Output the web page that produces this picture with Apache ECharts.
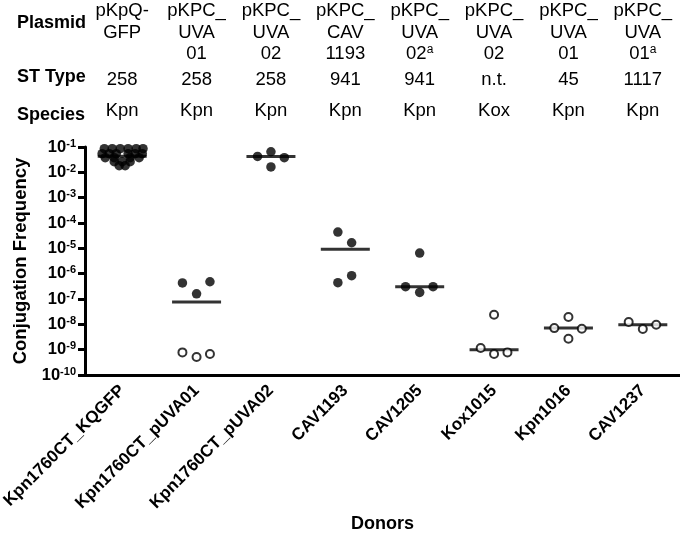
<!DOCTYPE html>
<html>
<head>
<meta charset="utf-8">
<script src="https://cdn.jsdelivr.net/npm/echarts@6/dist/echarts.min.js"></script>
<style>html,body{margin:0;padding:0;background:#fff}#c{width:680px;height:534px}</style>
</head>
<body>
<div id="c"></div>
<script>
// ---- data ----
const categories = ['Kpn1760CT_KQGFP','Kpn1760CT_pUVA01','Kpn1760CT_pUVA02','CAV1193','CAV1205','Kox1015','Kpn1016','CAV1237'];
const plasmidLines = [['pKpQ-','GFP',' '],['pKPC_','UVA','01'],['pKPC_','UVA','02'],['pKPC_','CAV','1193'],['pKPC_','UVA','02'],['pKPC_','UVA','02'],['pKPC_','UVA','01'],['pKPC_','UVA','01']];
const plasmidNotes = ['','','','','a','','','a'];
const stTypes = ['258','258','258','941','941','n.t.','45','1117'];
const species = ['Kpn','Kpn','Kpn','Kpn','Kpn','Kox','Kpn','Kpn'];
const rowHeaders = ['Plasmid','ST Type','Species'];

// filled (solid) points: values and horizontal jitter (fraction of category)
const filledValues = [
  [0.0857,0.0857,0.0857,0.0857,0.0857,0.0857, 0.0544,0.0544,0.0544,0.0544,0.0544,0.0544, 0.0379,0.0379,0.0379,0.0379, 0.0263,0.0263,0.0263, 0.0183,0.0183],
  [4.3e-7,1.6e-7,4.8e-7],
  [0.0426,0.065,0.038,0.0163],
  [4.4e-5,1.66e-5,4.4e-7,8.3e-7],
  [3.05e-7,1.82e-7,3.05e-7,6.5e-6],
  [],[],[]
];
const filledJitter = [
  [-0.24,-0.134,-0.027,0.08,0.188,0.28, -0.27,-0.174,-0.08,0.08,0.174,0.27, -0.228,-0.107,0.107,0.228, -0.107,0,0.107, -0.04,0.04],
  [-0.19,0,0.18],
  [-0.18,0,0.18,0],
  [-0.1,0.085,-0.1,0.085],
  [-0.19,0,0.18,0],
  [],[],[]
];
// open (hollow) points
const openValues = [
  [],
  [7.8e-10,5.1e-10,6.7e-10],
  [],[],[],
  [2.4e-8,1.16e-9,6.7e-10,7.8e-10],
  [7.1e-9,1.94e-8,6.7e-9,2.7e-9],
  [1.23e-8,6.5e-9,9.7e-9]
];
const openJitter = [
  [],
  [-0.19,0,0.18],
  [],[],[],
  [0,-0.18,0,0.18],
  [-0.19,0,0.18,0],
  [-0.19,0,0.18]
];
const medians = [0.043,7.6e-8,0.0426,9.1e-6,3.05e-7,1.0e-9,7.1e-9,9.7e-9];

// ---- chart ----
const FONT = 'Liberation Sans, Arial, sans-serif';
function pts(vals, jit){
  const out=[];
  vals.forEach((arr,i)=>arr.forEach((v,k)=>out.push([i+jit[i][k], v])));
  return out;
}
const topAxisBase = {
  type:'category', data:categories, position:'top', gridIndex:0,
  axisLine:{show:false}, axisTick:{show:false}, splitLine:{show:false},
  boundaryGap:true
};
const chart = echarts.init(document.getElementById('c'), null, {renderer:'canvas'});
chart.setOption({
  animation:false,
  backgroundColor:'#fff',
  grid:{left:85,right:0,top:147,bottom:159,containLabel:false,outerBoundsMode:'none'},
  graphic:[
    {type:'text', left:17, top:14, style:{text:rowHeaders[0], font:'bold 18px '+FONT, fill:'#000'}},
    {type:'text', left:17, top:68, style:{text:rowHeaders[1], font:'bold 18px '+FONT, fill:'#000'}},
    {type:'text', left:17, top:106, style:{text:rowHeaders[2], font:'bold 18px '+FONT, fill:'#000'}}
  ],
  xAxis:[
    {type:'category', data:categories, position:'bottom', boundaryGap:true,
     axisLine:{onZero:false,lineStyle:{color:'#000',width:3}},
     axisTick:{alignWithLabel:true,length:8,lineStyle:{color:'#000',width:3}},
     axisLabel:{interval:0,rotate:45,margin:13,color:'#000',fontFamily:FONT,fontWeight:'bold',fontSize:17},
     name:'Donors', nameLocation:'middle', nameGap:132,
     nameTextStyle:{color:'#000',fontFamily:FONT,fontWeight:'bold',fontSize:18}},
    {type:'value', min:-0.5, max:7.5, show:false},
    Object.assign({}, topAxisBase, {offset:82,
      axisLabel:{interval:0,margin:0,color:'#000',fontFamily:FONT,fontSize:18.5,
        formatter:(v,i)=>{const L=plasmidLines[i];
          return '{t|'+L[0]+'}\n{t|'+L[1]+'}\n{t|'+L[2]+'}'+(plasmidNotes[i]?'{s|'+plasmidNotes[i]+'}':'');},
        rich:{t:{fontSize:18.5,lineHeight:21.5,fontFamily:FONT,color:'#000'},
              s:{fontSize:12,lineHeight:12,verticalAlign:'top',fontFamily:FONT,color:'#000'}}}}),
    Object.assign({}, topAxisBase, {offset:57,
      axisLabel:{interval:0,margin:0,color:'#000',fontFamily:FONT,fontSize:18.5,lineHeight:20,
        formatter:(v,i)=>stTypes[i]}}),
    Object.assign({}, topAxisBase, {offset:26,
      axisLabel:{interval:0,margin:0,color:'#000',fontFamily:FONT,fontSize:18.5,lineHeight:20,
        formatter:(v,i)=>species[i]}})
  ],
  yAxis:{type:'log', logBase:10, min:1e-10, max:0.1, splitNumber:9,
    axisLine:{show:true,onZero:false,lineStyle:{color:'#000',width:3}},
    axisTick:{show:true,length:7,lineStyle:{color:'#000',width:3}},
    splitLine:{show:false},
    axisLabel:{margin:9,color:'#000',
      formatter:v=>'{b|10}{s|'+Math.round(Math.log10(v))+'}',
      rich:{b:{fontSize:16.5,fontWeight:'bold',fontFamily:FONT,color:'#000',lineHeight:18},
            s:{fontSize:11,fontWeight:'bold',fontFamily:FONT,color:'#000',verticalAlign:'top',lineHeight:11}}},
    name:'Conjugation Frequency', nameLocation:'middle', nameGap:52,
    nameTextStyle:{color:'#000',fontFamily:FONT,fontWeight:'bold',fontSize:18.5}},
  series:[
    {type:'scatter', xAxisIndex:1, clip:false, silent:true, z:1,
     symbol:'rect', symbolSize:[49,3], itemStyle:{color:'#000'},
     data:medians.map((m,i)=>[i,m])},
    {type:'scatter', xAxisIndex:1, clip:false, silent:true, z:2,
     symbol:'circle', symbolSize:9.5, itemStyle:{color:'#000'},
     data:pts(filledValues, filledJitter)},
    {type:'scatter', xAxisIndex:1, clip:false, silent:true, z:3,
     symbol:'circle', symbolSize:8, itemStyle:{color:'#fff',borderColor:'#000',borderWidth:2},
     data:pts(openValues, openJitter)}
  ]
});
</script>
</body>
</html>
